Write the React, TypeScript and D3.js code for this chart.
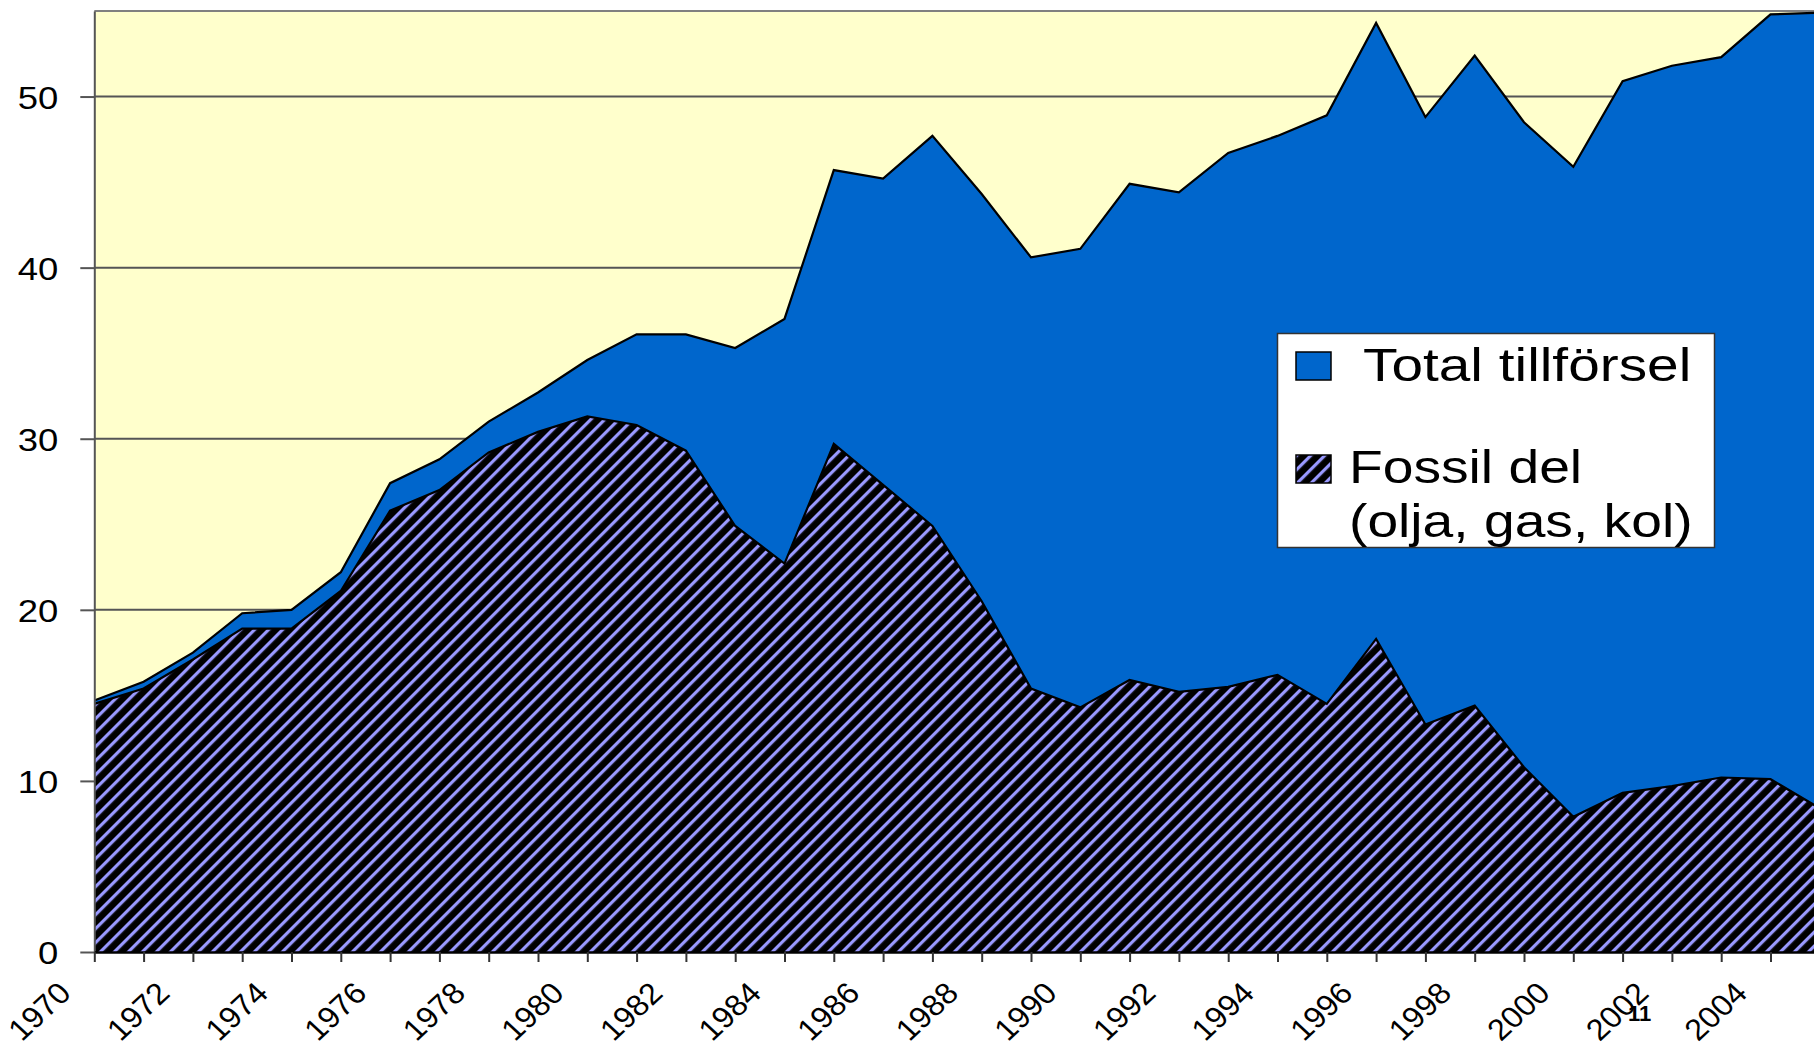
import { useEffect, useRef } from 'react';
import * as d3 from 'd3';

const WIDTH = 1814;
const HEIGHT = 1047;

// Categories (one per year, points sit on the tick marks)
const years = [
  '1970', '1971', '1972', '1973', '1974', '1975', '1976', '1977', '1978', '1979',
  '1980', '1981', '1982', '1983', '1984', '1985', '1986', '1987', '1988', '1989',
  '1990', '1991', '1992', '1993', '1994', '1995', '1996', '1997', '1998', '1999',
  '2000', '2001', '2002', '2003', '2004', '2005',
];

// Total tillförsel (top of blue area)
const totalSupply = [
  14.7, 15.8, 17.5, 19.8, 20.0, 22.2, 27.4, 28.8, 31.0, 32.7,
  34.6, 36.1, 36.1, 35.3, 37.0, 45.7, 45.2, 47.7, 44.3, 40.6,
  41.1, 44.9, 44.4, 46.7, 47.7, 48.9, 54.3, 48.8, 52.4, 48.5,
  45.9, 50.9, 51.8, 52.3, 54.8, 54.9,
];

// Fossil del (olja, gas, kol) (top of hatched area)
const fossilPart = [
  14.5, 15.4, 17.1, 18.9, 18.9, 21.1, 25.8, 27.0, 29.2, 30.4,
  31.3, 30.8, 29.3, 24.9, 22.7, 29.7, 27.3, 24.9, 20.5, 15.4,
  14.3, 15.9, 15.2, 15.5, 16.2, 14.5, 18.3, 13.3, 14.4, 10.8,
  7.9, 9.3, 9.7, 10.2, 10.1, 8.4,
];

const yTicks = [0, 10, 20, 30, 40, 50];
const xTickLabels = [
  '1970', '1972', '1974', '1976', '1978', '1980', '1982', '1984', '1986',
  '1988', '1990', '1992', '1994', '1996', '1998', '2000', '2002', '2004',
];

const PLOT = { left: 94.3, top: 11, bottom: 952, step: 49.3 };
const FONT = '"Liberation Sans", Arial, Helvetica, sans-serif';
const BLUE = '#0066CC';
const YELLOW = '#FFFFCC';
const HATCH = '#9999FF';
const HATCH_SIZE = 9.9;

export default function App() {
  const svgRef = useRef<SVGSVGElement>(null);

  useEffect(() => {
    if (!svgRef.current) return;
    const svg = d3.select(svgRef.current);
    svg.selectAll('*').remove();

    const x = d3
      .scalePoint<string>()
      .domain(years)
      .range([PLOT.left, PLOT.left + PLOT.step * (years.length - 1)]);
    const y = d3.scaleLinear().domain([0, 55]).range([PLOT.bottom, PLOT.top]);

    // Hatch pattern: black with light purple "/" stripes
    const defs = svg.append('defs');
    const pat = defs
      .append('pattern')
      .attr('id', 'hatch')
      .attr('patternUnits', 'userSpaceOnUse')
      .attr('width', HATCH_SIZE)
      .attr('height', HATCH_SIZE)
      .attr('patternTransform', 'rotate(45)');
    pat.append('rect').attr('width', HATCH_SIZE).attr('height', HATCH_SIZE).attr('fill', '#000');
    pat.append('rect').attr('width', 3.2).attr('height', HATCH_SIZE).attr('fill', HATCH);

    // Plot background
    svg
      .append('rect')
      .attr('x', PLOT.left)
      .attr('y', PLOT.top)
      .attr('width', WIDTH - PLOT.left)
      .attr('height', PLOT.bottom - PLOT.top)
      .attr('fill', YELLOW);

    // Gridlines
    svg
      .append('g')
      .selectAll('line')
      .data(yTicks.filter(t => t > 0))
      .enter()
      .append('line')
      .attr('x1', PLOT.left)
      .attr('x2', WIDTH)
      .attr('y1', (d: number) => y(d))
      .attr('y2', (d: number) => y(d))
      .attr('stroke', '#555')
      .attr('stroke-width', 2);

    // Top border of the plot area
    svg
      .append('line')
      .attr('x1', PLOT.left)
      .attr('x2', WIDTH)
      .attr('y1', PLOT.top)
      .attr('y2', PLOT.top)
      .attr('stroke', '#808080')
      .attr('stroke-width', 2);

    const area = d3
      .area<number>()
      .x((_d: number, i: number) => x(years[i]) as number)
      .y0(y(0))
      .y1((d: number) => y(d));
    const line = d3
      .line<number>()
      .x((_d: number, i: number) => x(years[i]) as number)
      .y((d: number) => y(d));

    svg.append('path').attr('d', area(totalSupply)).attr('fill', BLUE);
    svg
      .append('path')
      .attr('d', line(totalSupply))
      .attr('fill', 'none')
      .attr('stroke', '#000')
      .attr('stroke-width', 2.2);

    svg.append('path').attr('d', area(fossilPart)).attr('fill', 'url(#hatch)');
    svg
      .append('path')
      .attr('d', line(fossilPart))
      .attr('fill', 'none')
      .attr('stroke', '#000')
      .attr('stroke-width', 2.2);

    // Y axis
    const yAxis = svg
      .append('g')
      .attr('transform', `translate(${PLOT.left},0)`)
      .call(
        d3
          .axisLeft(y)
          .tickValues(yTicks)
          .tickSize(14)
          .tickSizeOuter(0)
          .tickFormat(d3.format('d')),
      );
    yAxis.select('.domain').attr('stroke', '#555').attr('stroke-width', 2);
    yAxis.selectAll('line').attr('stroke', '#555').attr('stroke-width', 2);
    yAxis
      .selectAll('text')
      .attr('x', 0)
      .attr('dy', '0.36em')
      .attr('transform', 'translate(-36,0) scale(1.14,1)')
      .attr('font-size', 32)
      .attr('font-family', FONT)
      .attr('fill', '#000');

    // X axis
    const xAxis = svg
      .append('g')
      .attr('transform', `translate(0,${PLOT.bottom})`)
      .call(
        d3
          .axisBottom(x)
          .tickSize(10)
          .tickSizeOuter(0)
          .tickFormat((d: string) => (xTickLabels.includes(d) ? d : '')),
      );
    xAxis.select('.domain').attr('stroke', '#000').attr('stroke-width', 2.5);
    xAxis.selectAll('line').attr('stroke', '#333').attr('stroke-width', 2);
    xAxis
      .selectAll('text')
      .attr('x', 0)
      .attr('y', 0)
      .attr('dy', 0)
      .attr('text-anchor', 'end')
      .attr('transform', 'translate(-22,43) scale(1.08,1) rotate(-45)')
      .attr('font-size', 30)
      .attr('font-family', FONT)
      .attr('fill', '#000');

    // Stray footnote marks under the 2002 label
    svg
      .append('text')
      .attr('x', 1628)
      .attr('y', 1021)
      .attr('font-size', 22)
      .attr('font-weight', 'bold')
      .attr('font-family', FONT)
      .attr('fill', '#000')
      .text('11');

    // Legend
    const legend = svg.append('g');
    legend
      .append('rect')
      .attr('x', 1277.5)
      .attr('y', 333.5)
      .attr('width', 437)
      .attr('height', 214)
      .attr('fill', '#fff')
      .attr('stroke', '#333')
      .attr('stroke-width', 1.5);
    legend
      .append('rect')
      .attr('x', 1296)
      .attr('y', 352)
      .attr('width', 35)
      .attr('height', 28)
      .attr('fill', BLUE)
      .attr('stroke', '#000')
      .attr('stroke-width', 1.5);
    legend
      .append('rect')
      .attr('x', 1296)
      .attr('y', 455)
      .attr('width', 35)
      .attr('height', 28)
      .attr('fill', 'url(#hatch)')
      .attr('stroke', '#000')
      .attr('stroke-width', 1.5);
    const legendText = [
      { text: 'Total tillförsel', x: 1363, y: 381, sx: 1.235 },
      { text: 'Fossil del', x: 1349, y: 483, sx: 1.2 },
      { text: '(olja, gas, kol)', x: 1349, y: 537, sx: 1.2 },
    ];
    legend
      .selectAll('text')
      .data(legendText)
      .enter()
      .append('text')
      .attr(
        'transform',
        (d: { x: number; y: number; sx: number }) => `translate(${d.x},${d.y}) scale(${d.sx},1)`,
      )
      .attr('font-size', 46)
      .attr('font-family', FONT)
      .attr('fill', '#000')
      .text((d: { text: string }) => d.text);
  }, []);

  return (
    <svg
      ref={svgRef}
      width={WIDTH}
      height={HEIGHT}
      style={{ position: 'absolute', left: 0, top: 0, display: 'block', background: '#fff' }}
    />
  );
}
